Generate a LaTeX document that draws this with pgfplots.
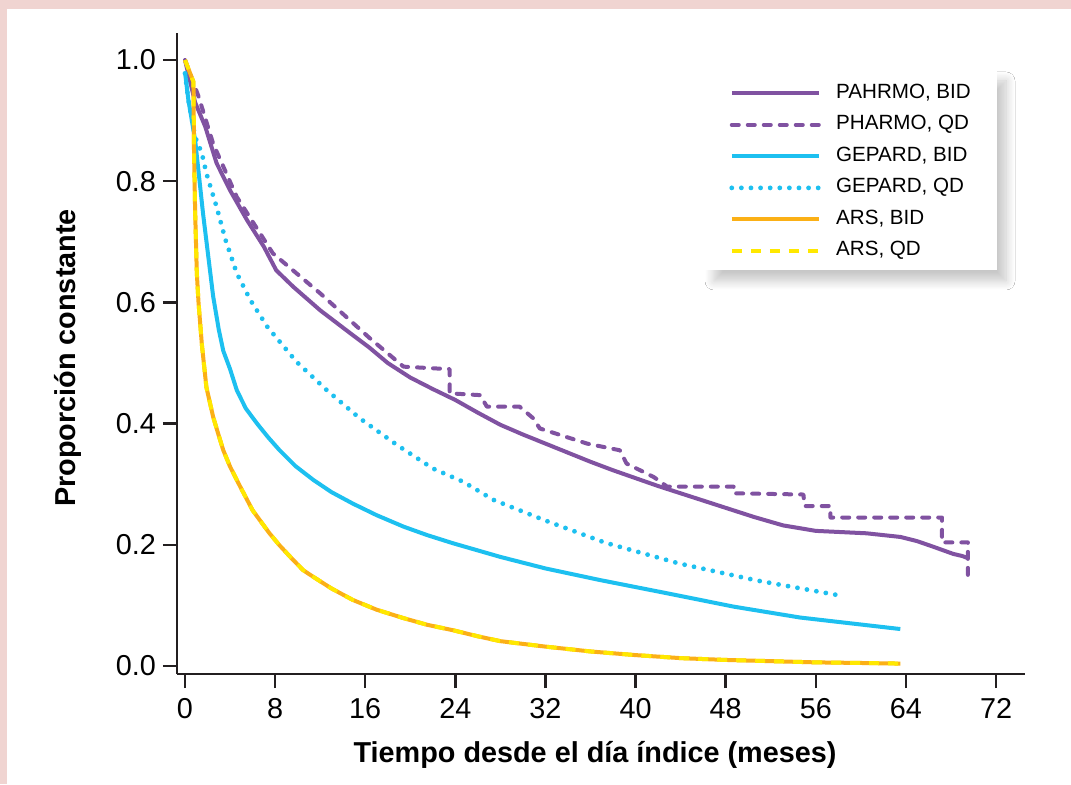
\documentclass[border=0pt]{standalone}
\usepackage{fontspec}
\setmainfont{Liberation Sans}
\usepackage{pgfplots}
\pgfplotsset{compat=1.18}
\usetikzlibrary{shadows.blur}
\definecolor{bgpink}{RGB}{240,212,209}
\definecolor{axisblack}{RGB}{35,31,32}
\definecolor{pharmo}{RGB}{128,82,161}
\definecolor{gepard}{RGB}{29,192,240}
\definecolor{arsorange}{RGB}{251,176,22}
\definecolor{arsyellow}{RGB}{255,232,0}

\begin{document}
\begin{tikzpicture}
\fill[bgpink] (0,0) rectangle (535.5pt,392pt);
\fill[white] (3.5pt,0) rectangle (535.5pt,387.5pt);
% legend box with its shadow, drawn under the axis
\fill[white, blur shadow={shadow xshift=4.5pt, shadow yshift=-5.5pt, shadow blur radius=4.5pt, shadow opacity=22, shadow blur steps=12}]
    (352.5pt,257pt) rectangle (498.5pt,357pt);
\begin{axis}[
    at={(88.5pt,55pt)}, anchor=south west,
    scale only axis, width=424pt, height=320.5pt,
    xmin=-0.71, xmax=74.57, ymin=-0.0132, ymax=1.0446,
    axis lines=left, axis line style={-, line width=1.25pt, axisblack},
    tick style={line width=1.25pt, axisblack},
    tick align=outside, major tick length=7pt,
    xtick={0,8,16,24,32,40,48,56,64,72},
    xticklabels={0,8,16,24,32,40,48,56,64,72},
    ytick={0,0.2,0.4,0.6,0.8,1.0},
    yticklabels={0.0,0.2,0.4,0.6,0.8,1.0},
    ticklabel style={font=\fontsize{14.4}{16}\selectfont},
    xticklabel style={yshift=-1.5pt},
    xlabel={Tiempo desde el día índice (meses)},
    ylabel={Proporción constante},
    every axis x label/.style={at={(axis description cs:0.493,-0.126)}, anchor=center,
        font=\fontsize{14.4}{16}\selectfont\bfseries},
    every axis y label/.style={at={(axis description cs:-0.129,0.493)}, rotate=90, anchor=center,
        font=\fontsize{14.4}{16}\selectfont\bfseries},
    legend image code/.code={\draw[#1] (0pt,0pt) -- (43.5pt,0pt);},
    legend style={at={(axis description cs:0.6226,0.9423)}, anchor=north west,
        draw=none, fill=none,
        inner xsep=12pt, inner ysep=6.5pt, row sep=5.75pt,
        font=\fontsize{10.3}{12}\selectfont,
        nodes={inner sep=0pt, text height=7.5pt, text depth=2.5pt},
        /tikz/every odd column/.append style={column sep=7.5pt}},
    legend cell align={left},
]
\addplot[pharmo, line width=2pt, line join=round] coordinates {
    (0,1.0) (0.9,0.93) (1.8,0.89) (2.8,0.83) (4,0.785) (5.5,0.736) (7,0.692)
    (8.1,0.653) (9.6,0.626) (12,0.587) (14.4,0.553) (16.4,0.525) (18,0.50)
    (20,0.476) (22,0.457) (24,0.439) (26,0.418) (28,0.398) (30,0.382)
    (32,0.367) (34,0.352) (36,0.337) (38,0.323) (40,0.31) (42,0.297)
    (44,0.285) (46,0.273) (48,0.261) (50.5,0.246) (53.1,0.232) (56,0.223)
    (60.5,0.219) (63.5,0.213) (65,0.206) (66.4,0.197) (68.2,0.185)
    (69,0.1815) (69.5,0.178)
};
\addlegendentry{PAHRMO, BID}
\addplot[pharmo, line width=2pt, line cap=round, line join=round, dash pattern=on 3.5pt off 4.5pt] coordinates {
    (0,1.0) (1.2,0.94) (2.5,0.862) (4.6,0.774) (7.8,0.681) (12,0.615)
    (16.4,0.541) (19.4,0.494) (22.3,0.491) (23.5,0.49) (23.5,0.45) (26.2,0.447)
    (26.8,0.428) (29.7,0.428) (30.9,0.409) (31.5,0.392) (35.7,0.367)
    (38.6,0.356) (39.2,0.334) (41.6,0.312) (42.8,0.296) (48.7,0.296)
    (48.7,0.285) (54.9,0.283) (55,0.264) (57.3,0.264) (57.3,0.245)
    (67.2,0.245) (67.2,0.204) (69.5,0.204) (69.5,0.136)
};
\addlegendentry{PHARMO, QD}
\addplot[gepard, line width=2pt, line join=round] coordinates {
    (0,0.98) (0.3,0.934) (0.9,0.868) (1.6,0.747) (2.5,0.61) (3.0,0.555)
    (3.4,0.52) (4.0,0.49) (4.6,0.455) (5.4,0.425) (6.4,0.40) (7.4,0.377)
    (8.4,0.356) (9.8,0.33) (11.4,0.307) (13,0.287) (14.9,0.268) (17,0.249)
    (19.4,0.23) (21.5,0.216) (23.8,0.2025) (28,0.18) (32,0.161) (36.8,0.142)
    (42.8,0.12) (48.7,0.098) (54.6,0.08) (63.5,0.061)
};
\addlegendentry{GEPARD, BID}
\addplot[gepard, line width=2.4pt, line cap=round, dash pattern=on 0pt off 4.8pt] coordinates {
    (0,0.978) (0.3,0.934) (0.9,0.873) (1.5,0.846) (1.9,0.813) (2.8,0.758)
    (3.6,0.703) (4.6,0.648) (5.8,0.604) (7.3,0.56) (9.9,0.502) (12.6,0.455)
    (15.5,0.409) (18.8,0.365) (22,0.326) (24.7,0.304) (27.4,0.274) (32,0.24)
    (37.3,0.2035) (43.9,0.169) (50.8,0.141) (58.4,0.1155)
};
\addlegendentry{GEPARD, QD}
\addplot[arsorange, line width=2pt, line join=round] coordinates {
    (0,1.0) (0.75,0.964) (0.8,0.85) (0.9,0.75) (1.05,0.648) (1.2,0.6)
    (1.5,0.53) (1.9,0.46) (2.5,0.411) (3.0,0.38) (3.4,0.356) (4,0.329)
    (4.9,0.296) (6,0.257) (7.5,0.219) (8.4,0.199) (9.5,0.177) (10.5,0.158)
    (11.4,0.147) (13,0.128) (14.9,0.109) (17,0.093) (19.4,0.079)
    (21.5,0.068) (23.8,0.059) (26,0.049) (28,0.041) (32,0.032) (36,0.024)
    (40,0.018) (44,0.013) (48,0.01) (52,0.008) (56,0.006) (60,0.005) (63.5,0.004)
};
\addlegendentry{ARS, BID}
\addplot[arsyellow, line width=2pt, line join=round, dash pattern=on 5pt off 4.5pt] coordinates {
    (0,1.0) (0.75,0.964) (0.8,0.85) (0.9,0.75) (1.05,0.648) (1.2,0.6)
    (1.5,0.53) (1.9,0.46) (2.5,0.411) (3.0,0.38) (3.4,0.356) (4,0.329)
    (4.9,0.296) (6,0.257) (7.5,0.219) (8.4,0.199) (9.5,0.177) (10.5,0.158)
    (11.4,0.147) (13,0.128) (14.9,0.109) (17,0.093) (19.4,0.079)
    (21.5,0.068) (23.8,0.059) (26,0.049) (28,0.041) (32,0.032) (36,0.024)
    (40,0.018) (44,0.013) (48,0.01) (52,0.008) (56,0.006) (60,0.005) (63.5,0.004)
};
\addlegendentry{ARS, QD}
\end{axis}
\pgfresetboundingbox
\path[use as bounding box] (0,0) rectangle (535.5pt,392pt);
\end{tikzpicture}
\end{document}
